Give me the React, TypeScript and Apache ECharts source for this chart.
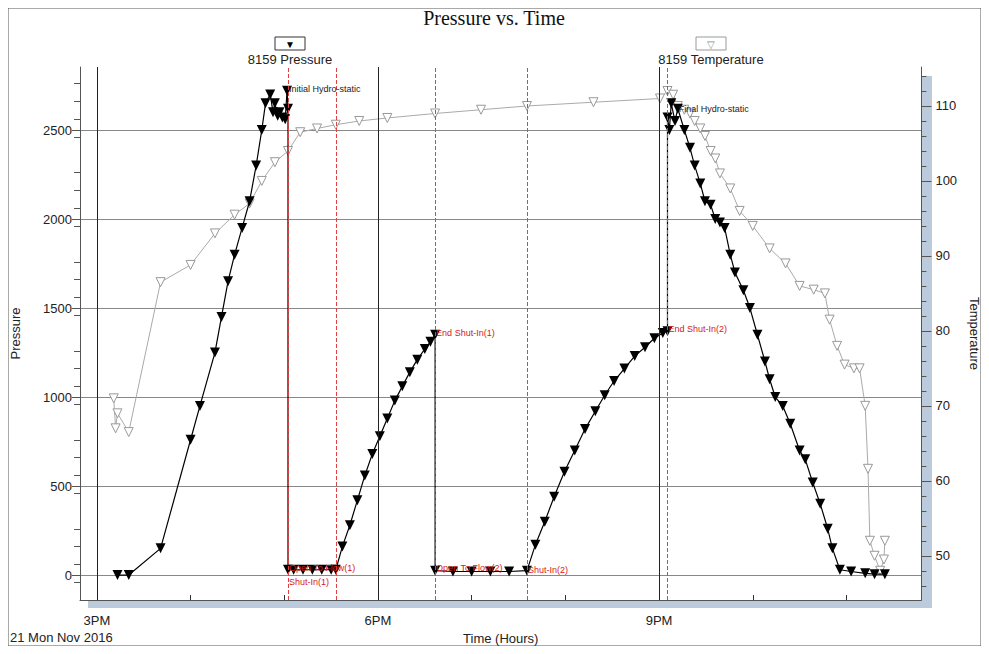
import { useEffect, useRef } from "react";
import * as echarts from "echarts";

// times are decimal hours of the day
const pressureTime = [15.22, 15.34, 15.68, 16.0, 16.1, 16.26, 16.33, 16.4, 16.47, 16.55, 16.63, 16.7, 16.76, 16.8, 16.85, 16.88, 16.9, 16.93, 16.95, 16.98, 17.01, 17.03, 17.04, 17.04, 17.1, 17.2, 17.3, 17.4, 17.5, 17.55, 17.62, 17.7, 17.78, 17.86, 17.94, 18.02, 18.1, 18.18, 18.26, 18.34, 18.42, 18.5, 18.56, 18.61, 18.61, 18.8, 19.0, 19.2, 19.4, 19.59, 19.68, 19.78, 19.88, 19.99, 20.1, 20.21, 20.32, 20.42, 20.52, 20.63, 20.74, 20.85, 20.95, 21.04, 21.09, 21.09, 21.11, 21.13, 21.17, 21.2, 21.27, 21.33, 21.38, 21.44, 21.49, 21.55, 21.6, 21.65, 21.7, 21.76, 21.81, 21.9, 21.97, 22.05, 22.13, 22.18, 22.24, 22.32, 22.4, 22.5, 22.56, 22.64, 22.72, 22.8, 22.85, 22.93, 23.05, 23.2, 23.3, 23.41];
const pressureValue = [0, 0, 150, 760, 950, 1250, 1450, 1650, 1800, 1950, 2100, 2300, 2500, 2650, 2700, 2600, 2650, 2580, 2600, 2570, 2560, 2720, 2620, 30, 30, 30, 30, 30, 30, 30, 160, 280, 420, 560, 680, 780, 880, 980, 1060, 1140, 1210, 1270, 1310, 1350, 25, 20, 20, 20, 20, 25, 170, 300, 440, 580, 700, 820, 920, 1010, 1090, 1160, 1230, 1280, 1330, 1360, 1370, 2570, 2500, 2650, 2550, 2620, 2500, 2400, 2300, 2200, 2100, 2080, 2000, 1980, 1950, 1800, 1700, 1600, 1500, 1350, 1200, 1100, 1000, 950, 850, 700, 650, 520, 400, 260, 150, 30, 20, 10, 5, 5];

const tempTime = [15.18, 15.2, 15.22, 15.34, 15.68, 16.0, 16.26, 16.47, 16.63, 16.76, 16.9, 17.04, 17.17, 17.35, 17.55, 17.8, 18.1, 18.61, 19.1, 19.59, 20.3, 21.01, 21.09, 21.15, 21.2, 21.27, 21.33, 21.38, 21.44, 21.49, 21.55, 21.6, 21.65, 21.76, 21.86, 22.0, 22.18, 22.35, 22.5, 22.65, 22.77, 22.82, 22.9, 22.98, 23.08, 23.14, 23.2, 23.23, 23.25, 23.3, 23.36, 23.4, 23.41];
const tempValue = [71, 67, 69, 66.5, 86.5, 88.8, 93, 95.5, 97, 100, 102.5, 104, 106.5, 107, 107.5, 108, 108.4, 109, 109.5, 110, 110.5, 111, 112, 111.5, 110, 109.5, 109, 108, 107, 106, 104, 103, 101, 99, 96, 94, 91, 89, 86, 85.5, 85, 81.5, 78, 75.5, 75, 75, 70, 61.6, 52, 50, 48, 49.5, 52];

const events = [
  { name: "Initial Hydro-static", t: 17.04, p: 2730, color: "#222" },
  { name: "Open To Flow(1)", t: 17.04, p: 40, color: "#d42020" },
  { name: "Shut-In(1)", t: 17.04, p: -40, color: "#d42020" },
  { name: "End Shut-In(1)", t: 18.61, p: 1360, color: "#d42020" },
  { name: "Open To Flow(2)", t: 18.61, p: 40, color: "#d42020" },
  { name: "Shut-In(2)", t: 19.59, p: 30, color: "#d42020" },
  { name: "End Shut-In(2)", t: 21.09, p: 1380, color: "#d42020" },
  { name: "Final Hydro-static", t: 21.2, p: 2620, color: "#222" },
];
const redLines = [17.04, 17.55, 18.61, 19.59, 21.09];
const hourLines = [15, 18, 21];
const hourTicks = [15, 16, 17, 18, 19, 20, 21, 22, 23];
const hourLabels: Record<number, string> = { 15: "3PM", 18: "6PM", 21: "9PM" };
const pressureTicks = [0, 500, 1000, 1500, 2000, 2500];
const tempTicks = [50, 60, 70, 80, 90, 100, 110];

export default function App() {
  const ref = useRef<HTMLDivElement>(null);

  useEffect(() => {
    if (!ref.current) return;
    const chart = echarts.init(ref.current, undefined, { renderer: "svg" });
    const font = "Arial, 'Liberation Sans', sans-serif";
    chart.setOption({
      animation: false,
      textStyle: { fontFamily: font },
      grid: { left: 80, right: 67, top: 67, bottom: 54 },
      xAxis: {
        type: "value",
        min: 14.82,
        max: 23.8,
        name: "Time (Hours)",
        nameLocation: "middle",
        nameGap: 30,
        nameTextStyle: { fontSize: 13, color: "#222" },
        axisLine: { onZero: false, lineStyle: { color: "#555" } },
        axisTick: { customValues: hourTicks, inside: true, lineStyle: { color: "#333" } },
        axisLabel: {
          customValues: [15, 18, 21],
          formatter: (v: number) => hourLabels[Math.round(v)] ?? "",
          color: "#222",
          fontSize: 13,
          margin: 14,
        },
        splitLine: { show: false },
      },
      yAxis: [
        {
          type: "value",
          min: -140,
          max: 2854,
          interval: 500,
          name: "Pressure",
          nameLocation: "middle",
          nameGap: 58,
          nameTextStyle: { fontSize: 13, color: "#222" },
          axisLabel: {
            color: "#222",
            fontSize: 13,
            customValues: pressureTicks,
            formatter: (v: number) => String(Math.round(v)),
          },
          axisTick: { show: true, customValues: pressureTicks, length: 8 },
          minorTick: { show: true, splitNumber: 5, length: 6 },
          axisLine: { show: true, lineStyle: { color: "#555" } },
          splitLine: { lineStyle: { color: "#888" } },
        },
        {
          type: "value",
          min: 44.1,
          max: 115.2,
          name: "Temperature",
          nameLocation: "middle",
          nameGap: 45,
          nameRotate: -90,
          nameTextStyle: { fontSize: 13, color: "#222" },
          axisLabel: {
            color: "#222",
            fontSize: 13,
            margin: 14,
            customValues: tempTicks,
            formatter: (v: number) => String(Math.round(v)),
          },
          axisTick: { show: true, customValues: tempTicks, length: 10 },
          minorTick: { show: true, splitNumber: 5, length: 5 },
          axisLine: { show: true, lineStyle: { color: "#555" } },
          splitLine: { show: false },
        },
      ],
      series: [
        {
          name: "8159 Temperature",
          type: "line",
          yAxisIndex: 1,
          data: tempTime.map((t, i) => [t, tempValue[i]]),
          symbol: "triangle",
          symbolRotate: 180,
          symbolSize: 9,
          itemStyle: { color: "#fff", borderColor: "#999", borderWidth: 1 },
          lineStyle: { color: "#aaa", width: 1 },
          z: 2,
        },
        {
          name: "8159 Pressure",
          type: "line",
          data: pressureTime.map((t, i) => [t, pressureValue[i]]),
          symbol: "triangle",
          symbolRotate: 180,
          symbolSize: 10,
          itemStyle: { color: "#000" },
          lineStyle: { color: "#000", width: 1.2 },
          z: 3,
          markLine: {
            silent: true,
            symbol: "none",
            label: { show: false },
            data: [
              ...hourLines.map((x) => ({ xAxis: x, lineStyle: { color: "#222", type: "solid", width: 1 } })),
              ...redLines.map((x) => ({ xAxis: x, lineStyle: { color: "#e04040", type: "dashed", width: 1 } })),
            ],
          },
          markPoint: {
            silent: true,
            symbol: "circle",
            symbolSize: 0,
            data: events.map((e) => ({
              coord: [e.t, e.p],
              label: {
                show: true,
                formatter: e.name,
                position: "right",
                distance: 1,
                color: e.color,
                fontSize: 9,
              },
            })),
          },
        },
      ],
      graphic: [
        { type: "rect", shape: { x: 8, y: 8, width: 973, height: 638 }, style: { fill: "none", stroke: "#555", lineWidth: 1 } },
        { type: "rect", shape: { x: 922, y: 76, width: 10, height: 532 }, style: { fill: "#bccbdb" }, z: -1 },
        { type: "rect", shape: { x: 88, y: 600, width: 844, height: 8 }, style: { fill: "#bccbdb" }, z: -1 },
        { type: "text", x: 494, y: 18, style: { text: "Pressure vs. Time", font: "20px 'Liberation Serif', serif", fill: "#111", textAlign: "center", textVerticalAlign: "middle" } },
        { type: "rect", shape: { x: 275, y: 37, width: 30, height: 13 }, style: { fill: "#fff", stroke: "#333" } },
        { type: "text", x: 290, y: 44, style: { text: "▼", font: "10px sans-serif", fill: "#000", textAlign: "center", textVerticalAlign: "middle" } },
        { type: "text", x: 290, y: 59, style: { text: "8159 Pressure", font: `13px ${font}`, fill: "#222", textAlign: "center", textVerticalAlign: "middle" } },
        { type: "rect", shape: { x: 696, y: 37, width: 30, height: 13 }, style: { fill: "#fff", stroke: "#999" } },
        { type: "text", x: 711, y: 44, style: { text: "▽", font: "10px sans-serif", fill: "#888", textAlign: "center", textVerticalAlign: "middle" } },
        { type: "text", x: 711, y: 59, style: { text: "8159 Temperature", font: `13px ${font}`, fill: "#222", textAlign: "center", textVerticalAlign: "middle" } },
        { type: "text", x: 10, y: 637, style: { text: "21 Mon Nov 2016", font: `13px ${font}`, fill: "#222", textVerticalAlign: "middle" } },
      ],
    });
    return () => chart.dispose();
  }, []);

  return <div ref={ref} style={{ width: 989, height: 654, margin: -8 }} />;
}
